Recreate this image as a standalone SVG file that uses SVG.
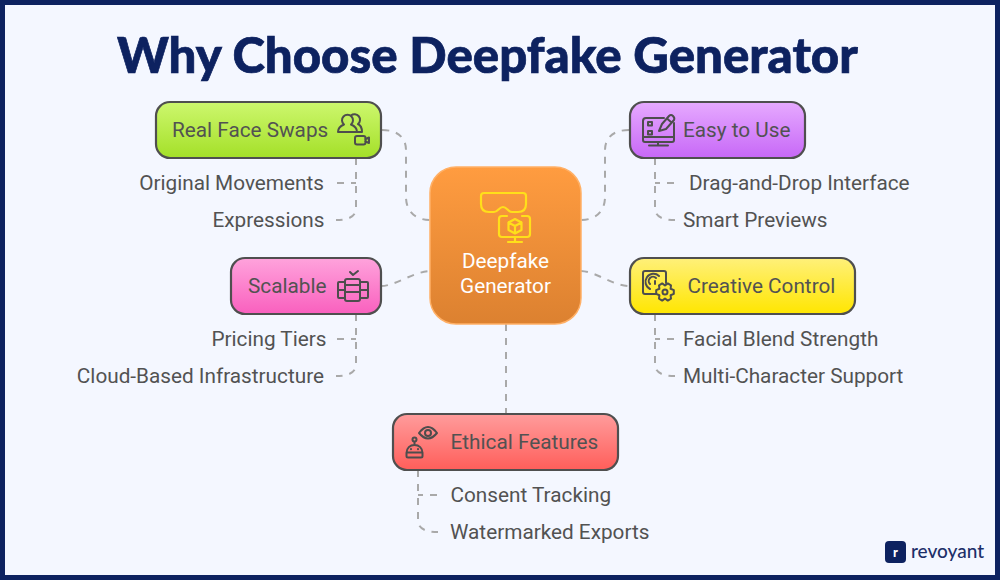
<svg xmlns="http://www.w3.org/2000/svg" width="1000" height="580" viewBox="0 0 1000 580">
<style>
.title{font:900 49.200px Lato,"Liberation Sans",sans-serif;fill:#0d2260;stroke:#0d2260;stroke-width:.7}
.l{font:20.750px Roboto,"Liberation Sans",sans-serif;fill:#525252}
.m{text-anchor:middle}
.e{text-anchor:end}
.w{fill:#fff}
.box{stroke:#4f4f4f;stroke-width:2.2}
.c{fill:none;stroke:#a9a9a9;stroke-width:2;stroke-dasharray:7 7}
.i{fill:none;stroke:#4d4d4d;stroke-width:2;stroke-linejoin:round;stroke-linecap:round}
.y{fill:none;stroke:#ffdf1a;stroke-width:2.200;stroke-linejoin:round;stroke-linecap:round}
</style>
<defs>
<linearGradient id="gG" x1="0" y1="0" x2="0" y2="1"><stop offset="0" stop-color="#cdf76e"/><stop offset="1" stop-color="#a4e028"/></linearGradient>
<linearGradient id="gP" x1="0" y1="0" x2="0" y2="1"><stop offset="0" stop-color="#e6aaff"/><stop offset="1" stop-color="#c768f7"/></linearGradient>
<linearGradient id="gK" x1="0" y1="0" x2="0" y2="1"><stop offset="0" stop-color="#ffa3dc"/><stop offset="1" stop-color="#f960be"/></linearGradient>
<linearGradient id="gY" x1="0" y1="0" x2="0" y2="1"><stop offset="0" stop-color="#fff07a"/><stop offset="1" stop-color="#ffe600"/></linearGradient>
<linearGradient id="gR" x1="0" y1="0" x2="0" y2="1"><stop offset="0" stop-color="#ff9c9c"/><stop offset="1" stop-color="#ff5e5a"/></linearGradient>
<linearGradient id="gO" x1="0" y1="0" x2="0" y2="1"><stop offset="0" stop-color="#ff9c40"/><stop offset="1" stop-color="#dc8130"/></linearGradient>
</defs>
<rect x="2.500" y="2.500" width="995" height="575" fill="#f4f7ff" stroke="#0d2260" stroke-width="5"/>
<text class="title" x="117" y="73">Why Choose Deepfake Generator</text>
<g id="connectors">
<path class="c" d="M382 130C398 130 406 138 406 150V197C406 210 414 220 430 220"/>
<path class="c" d="M629 130C613 130 605 138 605 150V197C605 210 597 220 581 220"/>
<path class="c" d="M381 286C396 286 412 272 430 271"/>
<path class="c" d="M581 271C598 272 612 286 630 286"/>
<path class="c" d="M506 324V414"/>
<path class="c" d="M356 158V208C356 216 350 220 336 220"/>
<path class="c" d="M337 183H356"/>
<path class="c" d="M655 158V208C655 216 661 220 675 220"/>
<path class="c" d="M674 183H655"/>
<path class="c" d="M356 314V364C356 372 350 376 336 376"/>
<path class="c" d="M337 339H356"/>
<path class="c" d="M655 314V364C655 372 661 376 675 376"/>
<path class="c" d="M674 339H655"/>
<path class="c" d="M418 470V520C418 528 424 532 438 532"/>
<path class="c" d="M437 495H418"/>
</g>
<g id="center"><rect x="430" y="167" width="151" height="157" rx="26" fill="url(#gO)" stroke="#ffb066" stroke-width="1.500"/>
<path class="y" d="M484 193H523Q526 193 526 196V204Q526 212 518 212H512C508 212 507 207 503 207S498 212 494 212H489Q481 212 481 204V196Q481 193 484 193Z"/>
<path class="y" d="M507 216H502Q499 216 499 219V234Q499 237 502 237H527Q530 237 530 234V219Q530 216 527 216H522M515 237V241.500M508 242H522M515 219L521.500 222.500V230L515 233.500L508.500 230V222.500ZM508.500 222.500L515 226L521.500 222.500M515 226V233.500"/>
<text class="l w m" x="505.500" y="268">Deepfake</text><text class="l w m" x="505.500" y="293">Generator</text></g>
<g id="real-face-swaps"><rect x="156" y="102" width="225" height="56" rx="14" fill="url(#gG)" class="box"/>
<text class="l" x="172" y="136.500">Real Face Swaps</text>
<path class="i" d="M338 132Q338 127 344 124.500A5.500 5.500 0 1 1 351 124.500Q357 127 357 132ZM351 115.500A5 5 0 0 1 358 124Q362 126 362 132H357"/>
<rect class="i" x="355" y="136" width="10.500" height="8.500" rx="2"/><path class="i" d="M365.500 139L369 137.500V143L365.500 141.500"/></g>
<text class="l e" x="324" y="189.500">Original Movements</text>
<text class="l e" x="324.500" y="226.500">Expressions</text>
<g id="easy-to-use"><rect x="630" y="102" width="175" height="56" rx="14" fill="url(#gP)" class="box"/>
<text class="l" x="683" y="136.500">Easy to Use</text>
<path class="i" d="M664 118H646Q643 118 643 121V140Q643 142 645 142H672Q674 142 674 140V123M643 137H674M658 142V145M649 145.500H668"/>
<rect class="i" x="648" y="122" width="4" height="3.500"/><rect class="i" x="648" y="131" width="4" height="3.500"/>
<path class="i" d="M662 124L669 116Q671 114 673 116T674 120L666 129L659 131ZM667 118.500L671.500 122.500"/></g>
<text class="l" x="689" y="189.500">Drag-and-Drop Interface</text>
<text class="l" x="683" y="226.500">Smart Previews</text>
<g id="scalable"><rect x="231" y="258" width="150" height="56" rx="14" fill="url(#gK)" class="box"/>
<text class="l" x="248" y="292.500">Scalable</text>
<path class="i" d="M350 272L353 275L358 271M347 279H358Q360 279 360 281V299Q360 301 358 301H347Q345 301 345 299V281Q345 279 347 279ZM345 285H360M345 292H360M345 282H339Q338 282 338 283V297Q338 298 339 298H345M360 282H367Q368 282 368 283V297Q368 298 367 298H360M338 290H345M360 290H368"/></g>
<text class="l e" x="326.500" y="345.500">Pricing Tiers</text>
<text class="l e" x="324" y="382.500">Cloud-Based Infrastructure</text>
<g id="creative-control"><rect x="630" y="258" width="225" height="56" rx="14" fill="url(#gY)" class="box"/>
<text class="l" x="687.500" y="292.500">Creative Control</text>
<path class="i" d="M656 294H645Q643 294 643 292V273Q643 271 645 271H664Q666 271 666 273V283"/>
<path class="i" d="M659 276A8 8 0 1 0 650 289M656 278A4 4 0 1 0 650 284M655 281V284"/>
<path class="i" d="M673.800 290.100V293.900L670.600 295.250L671 298.700L667.800 300.600L665 298.500L662.200 300.600L659 298.700L659.400 295.250L656.200 293.900V290.100L659.400 288.750L659 285.300L662.200 283.400L665 285.500L667.800 283.400L671 285.300L670.600 288.750Z"/><circle class="i" cx="665" cy="292" r="2.500"/></g>
<text class="l" x="683" y="345.500">Facial Blend Strength</text>
<text class="l" x="683" y="382.500">Multi-Character Support</text>
<g id="ethical-features"><rect x="393" y="414" width="225" height="56" rx="14" fill="url(#gR)" class="box"/>
<text class="l" x="450.500" y="448.500">Ethical Features</text>
<path class="i" d="M419 433Q428 421 437 433Q428 444 419 433Z"/><circle class="i" cx="428" cy="433" r="3"/>
<circle class="i" cx="414.500" cy="439.500" r="2"/><path class="i" d="M414.500 442V445M406.500 456V453C406.500 448 410 445 414.500 445S422.500 448 422.500 453V456Q422.500 457.500 421 457.500H408Q406.500 457.500 406.500 456ZM406.500 452.500H422.500M411 449V449.300M418 449V449.300"/></g>
<text class="l" x="450.500" y="501.500">Consent Tracking</text>
<text class="l" x="450" y="538.500">Watermarked Exports</text>
<g id="logo"><rect x="885" y="541" width="21" height="22" rx="4" fill="#0d2260"/>
<text x="895.500" y="557" text-anchor="middle" style="font:900 13px Lato,'Liberation Sans',sans-serif" fill="#fff">r</text>
<text x="911" y="557.500" style="font:500 19px Lato,'Liberation Sans',sans-serif" fill="#1d2f69">revoyant</text></g>
</svg>
